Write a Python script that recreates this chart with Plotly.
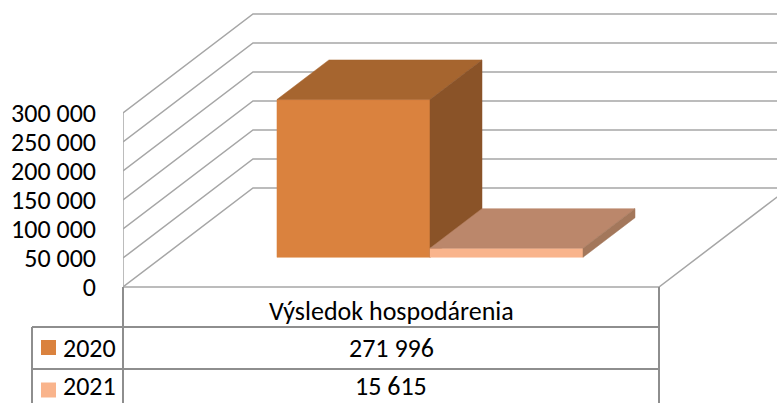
import plotly.graph_objects as go

# ---------------- data ----------------
category = "Výsledok hospodárenia"
series_names = ["2020", "2021"]
series_values = [271996, 15615]
tick_values = [0, 50000, 100000, 150000, 200000, 250000, 300000]

front_colors = ["#DA823E", "#F9B48C"]
top_colors = ["#A6652F", "#BB876B"]
side_colors = ["#8A5328", "#A3775B"]

# ---------------- geometry (pixel layout of the 777x403 canvas) ----------------
W, H = 777, 403
L_MARGIN = 123            # plot area starts at front-left edge of the 3D box
PX_PER_UNIT_X = 536.0     # one category-width of the floor in pixels
PX_PER_VALUE = 29.0 / 50000.0
ZERO_PX = 287.0           # pixel row of value 0 on the front plane
DEPTH_PX_X = 130.0        # oblique projection of full depth
DEPTH_PX_Y = 99.0

DX = DEPTH_PX_X / PX_PER_UNIT_X          # x-units per unit depth
DY = DEPTH_PX_Y / PX_PER_VALUE           # value-units per unit depth

x_range = [0, (W - L_MARGIN) / PX_PER_UNIT_X]
y_range = [-(H - ZERO_PX) / PX_PER_VALUE, ZERO_PX / PX_PER_VALUE]


def proj(x, v, d):
    return x + d * DX, v + d * DY


def px_x(p):
    return (p - L_MARGIN) / (W - L_MARGIN)


def px_y(p):
    return (H - p) / H


GRID = "#A6A6A6"
TABLE = "#8E8E8E"
FONT = "Carlito, Calibri, Lato, sans-serif"
FS = 26

fig = go.Figure()

# ---------------- walls / gridlines ----------------
vmax = max(tick_values)
lx, ly = [], []
for t in tick_values:
    a = proj(0, t, 0); b = proj(0, t, 1); c = proj(1, t, 1)
    lx += [a[0], b[0], c[0], None]
    ly += [a[1], b[1], c[1], None]
a = proj(0, 0, 0); b = proj(0, vmax, 0)
lx += [a[0], b[0], None]; ly += [a[1], b[1], None]
a = proj(0, 0, 0); b = proj(1, 0, 0); c = proj(1, 0, 1)
lx += [a[0], b[0], c[0], None]; ly += [a[1], b[1], c[1], None]
fig.add_trace(go.Scatter(x=lx, y=ly, mode="lines", line=dict(color=GRID, width=1.5),
                         hoverinfo="skip", showlegend=False))

# ---------------- 3D bars ----------------
bar_w = 0.2855
d0, d1 = 0.3, 0.7
n = len(series_values)
start = 0.5 - bar_w * n / 2
for i, (name, val) in enumerate(zip(series_names, series_values)):
    x0 = start + i * bar_w
    x1 = x0 + bar_w
    f = [proj(x0, 0, d0), proj(x1, 0, d0), proj(x1, val, d0), proj(x0, val, d0)]
    t = [proj(x0, val, d0), proj(x1, val, d0), proj(x1, val, d1), proj(x0, val, d1)]
    s = [proj(x1, 0, d0), proj(x1, 0, d1), proj(x1, val, d1), proj(x1, val, d0)]
    for poly, col in ((f, front_colors[i]), (t, top_colors[i]), (s, side_colors[i])):
        xs = [p[0] for p in poly] + [poly[0][0]]
        ys = [p[1] for p in poly] + [poly[0][1]]
        fig.add_trace(go.Scatter(x=xs, y=ys, mode="lines", fill="toself",
                                 fillcolor=col, line=dict(color=col, width=0.5),
                                 name=name, hoverinfo="skip", showlegend=False))

# ---------------- data table ----------------
shapes = []
def hline(y, x0, x1):
    shapes.append(dict(type="line", xref="paper", yref="paper",
                       x0=px_x(x0), x1=px_x(x1), y0=px_y(y), y1=px_y(y),
                       line=dict(color=TABLE, width=2)))
def vline(x, y0, y1):
    shapes.append(dict(type="line", xref="paper", yref="paper",
                       x0=px_x(x), x1=px_x(x), y0=px_y(y0), y1=px_y(y1),
                       line=dict(color=TABLE, width=2)))

tbl_left, tbl_mid, tbl_right = 32, 123, 659
vline(tbl_mid, 287, 411)
vline(tbl_right, 287, 411)
vline(tbl_left, 327, 411)
hline(327, tbl_left, tbl_right)
hline(369, tbl_left, tbl_right)

row_text_y = [348, 386]
row_key_y = [347.5, 390]

annotations = []
cx = (tbl_mid + tbl_right) / 2
annotations.append(dict(xref="paper", yref="paper", x=px_x(cx), y=px_y(311),
                        text=category, showarrow=False, xanchor="center", yanchor="middle",
                        font=dict(family=FONT, size=FS, color="#000000")))
for i, (name, val) in enumerate(zip(series_names, series_values)):
    yc = row_text_y[i]
    txt = f"{val:,}".replace(",", " ")
    annotations.append(dict(xref="paper", yref="paper", x=px_x(cx), y=px_y(yc),
                            text=txt, showarrow=False, xanchor="center", yanchor="middle",
                            font=dict(family=FONT, size=FS, color="#000000")))
    annotations.append(dict(xref="paper", yref="paper", x=px_x(61), y=px_y(yc),
                            text=name, showarrow=False, xanchor="left", yanchor="middle",
                            font=dict(family=FONT, size=FS, color="#000000")))
    ky = row_key_y[i]
    shapes.append(dict(type="rect", xref="paper", yref="paper",
                       x0=px_x(41), x1=px_x(56), y0=px_y(ky - 7.5), y1=px_y(ky + 7.5),
                       fillcolor=front_colors[i], line=dict(width=0)))

fig.update_layout(
    width=W, height=H,
    margin=dict(l=L_MARGIN, r=0, t=0, b=0),
    paper_bgcolor="white", plot_bgcolor="white",
    separators=", ",
    showlegend=False,
    xaxis=dict(range=x_range, visible=False, fixedrange=True),
    yaxis=dict(range=y_range, tickvals=tick_values, tickformat=",d",
               showgrid=False, zeroline=False, showline=False, ticks="",
               ticklabelstandoff=26,
               tickfont=dict(family=FONT, size=FS, color="#000000"), fixedrange=True),
    shapes=shapes,
    annotations=annotations,
)

fig.write_html("out.html", config={"displayModeBar": False},
               post_script="document.body.style.margin='0';document.body.style.overflow='hidden';")
